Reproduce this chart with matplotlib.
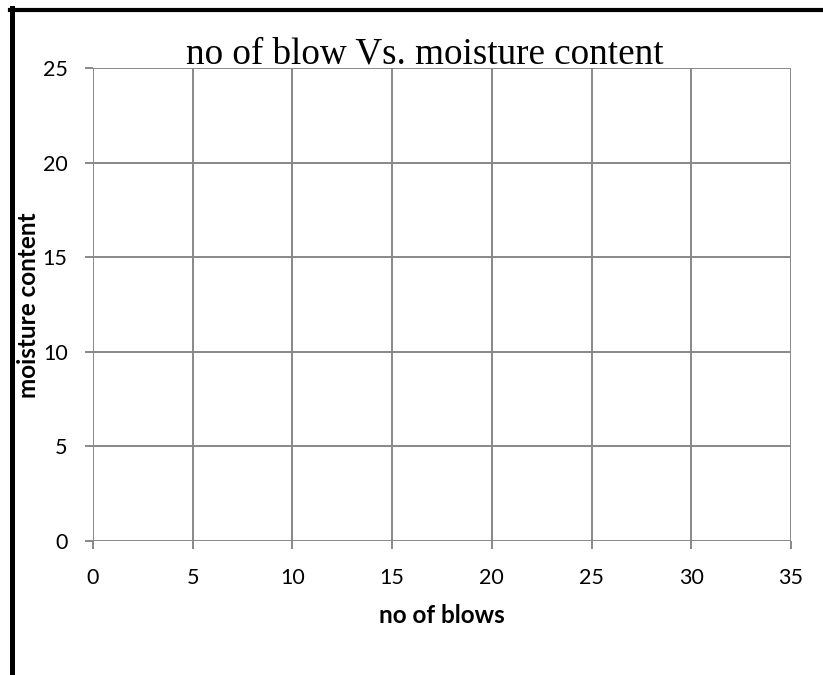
import matplotlib
matplotlib.use("Agg")
import matplotlib.pyplot as plt
from matplotlib.lines import Line2D

# Data (chart has no plotted series)
blows = []
moisture = []
x_ticks = [0, 5, 10, 15, 20, 25, 30, 35]
y_ticks = [0, 5, 10, 15, 20, 25]
title = "no of blow Vs. moisture content"
x_label = "no of blows"
y_label = "moisture content"

W, H = 823, 675
dpi = 100
fig = plt.figure(figsize=(W / dpi, H / dpi), dpi=dpi)

def px(x0, y0, x1, y1):
    return [x0 / W, 1 - y1 / H, (x1 - x0) / W, (y1 - y0) / H]

ax = fig.add_axes(px(93, 68, 791, 541))
ax.plot(blows, moisture)
ax.set_xlim(x_ticks[0], x_ticks[-1])
ax.set_ylim(y_ticks[0], y_ticks[-1])
ax.set_xticks(x_ticks)
ax.set_yticks(y_ticks)
grid_c = "#888888"
ax.grid(True, color=grid_c, linewidth=1.4)
for s in ax.spines.values():
    s.set_visible(False)
ax.tick_params(axis="both", direction="out", length=5.8, width=1.4, color=grid_c,
               labelsize=15.5, labelcolor="black")
ax.tick_params(axis="y", pad=12.5)
ax.tick_params(axis="x", pad=13.5)
for lab in ax.get_xticklabels() + ax.get_yticklabels():
    lab.set_fontfamily("Lato")
ax.set_axisbelow(True)

fig.text(441.5 / W, 1 - 623 / H, x_label, ha="center", va="baseline",
         fontsize=17.5, fontweight="bold", family="Lato")
fig.text(29 / W, 1 - 305 / H, y_label, ha="center", va="center", rotation=90,
         fontsize=17.5, fontweight="bold", family="Lato")
fig.text(424.5 / W, 1 - 63 / H, title, ha="center", va="baseline",
         fontsize=26.7, family="Liberation Serif")

# Outer frame (left and top edges)
fig.add_artist(Line2D([12 / W, 12 / W], [0, 1 - 8 / H], color="black",
                      linewidth=3.6, transform=fig.transFigure))
fig.add_artist(Line2D([10 / W, 1], [1 - 9.5 / H, 1 - 9.5 / H], color="black",
                      linewidth=3.0, transform=fig.transFigure))

fig.savefig("out.png", dpi=dpi, facecolor="white")
